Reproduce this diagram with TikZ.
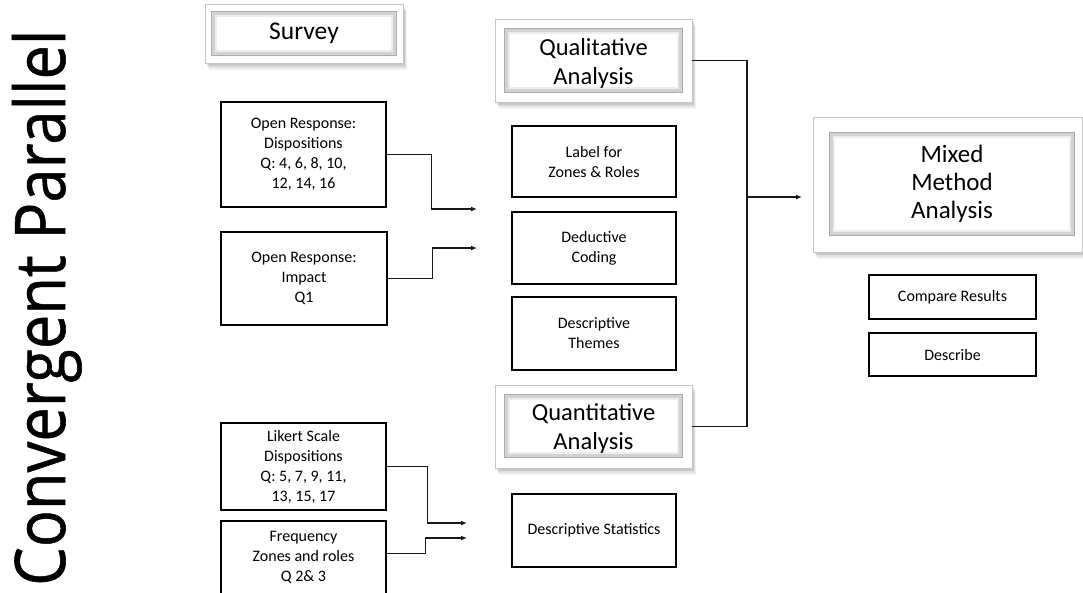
\documentclass[tikz,border=0pt]{standalone}
\usepackage{graphicx}
\usepackage{fontspec}
\setmainfont{Carlito}
\newfontfamily\titlefont[FakeBold=0.8]{Open Sans}
\usetikzlibrary{arrows.meta}
\begin{document}
\begin{tikzpicture}[x=1pt,y=-1pt,
  box/.style={draw=black, line width=1.4pt, fill=white, align=center, inner sep=0pt,
    font=\fontsize{16}{20}\selectfont},
  outerbox/.style={draw=gray!45, line width=0.9pt, fill=white, inner sep=0pt,
    preaction={fill=black, opacity=0.05, transform canvas={xshift=4pt,yshift=-7pt}},
    preaction={fill=black, opacity=0.08, transform canvas={xshift=3pt,yshift=-5pt}},
    preaction={fill=black, opacity=0.10, transform canvas={xshift=1.5pt,yshift=-3pt}}},
  innerbox/.style={draw=gray!65, line width=2.2pt, fill=white, inner sep=0pt, align=center},
  glowa/.style={draw=gray!35, line width=2.5pt},
  glowb/.style={draw=gray!14, line width=2.5pt},
  conn/.style={line width=1.4pt, black!90},
  arr/.style={conn, -{Latex[length=6pt,width=5pt]}},
  head/.style={align=center, font=\fontsize{24.5}{29}\selectfont}
]
\useasboundingbox (0,0) rectangle (1083,592);

% title
\node[anchor=base west, rotate=90, inner sep=0pt] (title) at (65,586)
  {\resizebox{556pt}{53pt}{\titlefont Convergent Parallel}};

% framed headings
\node[outerbox, minimum width=198pt, minimum height=59pt] (survO) at (304,33.5) {};
\node[innerbox, minimum width=184pt, minimum height=43pt] (survI) at (304,33.5) {};
\node[outerbox, minimum width=197pt, minimum height=83pt] (qualO) at (593.5,60.5) {};
\node[innerbox, minimum width=177pt, minimum height=63pt] (qualI) at (593.5,60.5) {};
\node[outerbox, minimum width=197pt, minimum height=83pt] (quantO) at (593.5,426.5) {};
\node[innerbox, minimum width=177pt, minimum height=62pt] (quantI) at (593.5,426) {};
\node[outerbox, minimum width=269pt, minimum height=135pt] (mixO) at (947.5,184.5) {};
\node[innerbox, minimum width=244pt, minimum height=102pt] (mixI) at (952,184) {};

\foreach \n in {survI,qualI,quantI,mixI}{
  \draw[glowa] ([shift={(2.6,2.6)}]\n.north west) rectangle ([shift={(-2.6,-2.6)}]\n.south east);
  \draw[glowb] ([shift={(5,5)}]\n.north west) rectangle ([shift={(-5,-5)}]\n.south east);
}

\node[head, font=\fontsize{25.5}{29}\selectfont] (survT) at (survI.center) {Survey};
\node[head] (qualT) at ([yshift=-3pt]qualI.center) {Qualitative\\Analysis};
\node[head] (quantT) at ([yshift=-2pt]quantI.center) {Quantitative\\Analysis};
\node[head, font=\fontsize{25}{28}\selectfont] (mixT) at (mixI.center) {Mixed\\Method\\Analysis};

% left boxes
\node[box, minimum width=165pt, minimum height=105pt] (d1) at (303.5,154.5)
  {Open Response:\\Dispositions\\Q: 4, 6, 8, 10,\\12, 14, 16};
\node[box, minimum width=166pt, minimum height=93pt] (imp) at (304,278.5)
  {Open Response:\\Impact\\Q1};
\node[box, minimum width=165pt, minimum height=87pt] (lik) at (303.5,466.5)
  {Likert Scale\\Dispositions\\Q: 5, 7, 9, 11,\\13, 15, 17};
\node[box, minimum width=165pt, minimum height=73pt] (freq) at (303.5,557.5)
  {Frequency\\Zones and roles\\Q 2\& 3};

% middle boxes
\node[box, minimum width=164pt, minimum height=71pt] (lab) at (594,161.5) {Label for\\Zones \& Roles};
\node[box, minimum width=164pt, minimum height=72pt] (ded) at (594,248) {Deductive\\Coding};
\node[box, minimum width=164pt, minimum height=73pt] (dth) at (594,333.5) {Descriptive\\Themes};
\node[box, minimum width=164pt, minimum height=73pt] (dst) at (594,530.5) {Descriptive Statistics};

% right boxes
\node[box, minimum width=167pt, minimum height=44pt] (cmp) at (952.5,297) {Compare Results};
\node[box, minimum width=167pt, minimum height=43pt] (desc) at (952.5,354.5) {Describe};

% connectors
\coordinate (a1) at (477,209);
\coordinate (a2) at (477,248);
\coordinate (a3) at (467,523);
\coordinate (a4) at (467,538);
\coordinate (jn) at (747,197);
\coordinate (a5) at (802,197);

\draw[arr] (d1.east) -- ++(45,0) |- (a1);
\draw[arr] (imp.east) -- ++(45,0) |- (a2);
\draw[arr] (lik.east) -- ++(41,0) |- (a3);
\draw[arr] ([yshift=4pt]freq.east) -- ++(39,0) |- (a4);
\draw[conn] (qualO.east) -| (jn) |- (quantO.east);
\draw[arr] (jn) -- (a5);
\end{tikzpicture}
\end{document}
